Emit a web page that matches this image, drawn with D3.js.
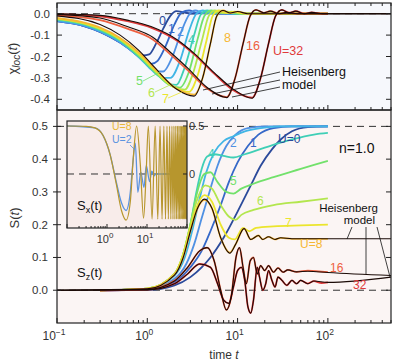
<!DOCTYPE html>
<html>
<head>
<meta charset="utf-8">
<script src="https://cdn.jsdelivr.net/npm/d3@7"></script>
<style>
  body { margin: 0; background: #fff; }
  text { font-family: "Liberation Sans", Arial, sans-serif; }
</style>
</head>
<body>
<div id="chart"></div>
<script>
// ========= Data ========= //
const uLabels = ['0', '1', '2', '3', '4', '5', '6', '7', '8', '16', '32'];
const uColors = ['#2b4a9b', '#3568c8', '#4f90e3', '#41b5e5', '#3fcfb6', '#72e16b',
                 '#b3e64e', '#ebe52d', '#f6b733', '#ee6040', '#e03a3a'];

const xTickValues = [0.1, 1, 10, 100];
const xTickExps = ['\u22121', '0', '1', '2'];
const chiTicks = [0, -0.1, -0.2, -0.3, -0.4];
const sTicks = [0, 0.1, 0.2, 0.3, 0.4, 0.5];

// chi_loc(t), one [t, value] list per U
const chi0 = [[0.1,-0.035],[0.2,-0.058],[0.3,-0.085],[0.5,-0.135],[0.7,-0.175],[0.9,-0.195],[1.05,-0.19],[1.25,-0.14],[1.5,-0.07],[1.8,-0.01],[2.1,0.012],[2.6,0.005],[3.2,0.0],[4,0.003],[6,0],[100,0]];
const chi1 = [[0.1,-0.035],[0.2,-0.058],[0.3,-0.085],[0.5,-0.135],[0.7,-0.18],[0.9,-0.215],[1.1,-0.235],[1.3,-0.22],[1.6,-0.15],[2.0,-0.05],[2.4,0.005],[2.9,0.015],[3.6,0.002],[4.5,0.006],[6,0],[100,0]];
const chi2 = [[0.1,-0.034],[0.2,-0.057],[0.3,-0.084],[0.5,-0.134],[0.7,-0.18],[1.0,-0.24],[1.25,-0.27],[1.5,-0.27],[1.9,-0.2],[2.4,-0.08],[2.9,-0.005],[3.4,0.015],[4.2,0.003],[5.2,0.01],[7,0],[100,0]];
const chi3 = [[0.1,-0.031],[0.2,-0.053],[0.3,-0.08],[0.5,-0.13],[0.8,-0.2],[1.1,-0.26],[1.5,-0.3],[1.8,-0.3],[2.3,-0.22],[2.9,-0.08],[3.5,0.0],[4.1,0.015],[5,0.002],[6.2,0.01],[8,0],[100,0]];
const chi4 = [[0.1,-0.028],[0.2,-0.05],[0.3,-0.077],[0.5,-0.127],[0.8,-0.2],[1.2,-0.27],[1.7,-0.325],[2.1,-0.333],[2.6,-0.25],[3.3,-0.1],[3.9,-0.005],[4.6,0.015],[5.6,0.002],[7,0.01],[9,0],[100,0]];
const chi5 = [[0.1,-0.026],[0.2,-0.048],[0.3,-0.074],[0.5,-0.123],[0.8,-0.195],[1.2,-0.27],[1.8,-0.335],[2.3,-0.345],[2.9,-0.27],[3.6,-0.12],[4.3,-0.01],[5.1,0.015],[6.2,0.003],[7.7,0.01],[10,0],[100,0]];
const chi6 = [[0.1,-0.024],[0.2,-0.046],[0.3,-0.071],[0.5,-0.12],[0.8,-0.19],[1.2,-0.265],[1.9,-0.34],[2.6,-0.355],[3.2,-0.28],[4.0,-0.13],[4.8,-0.01],[5.6,0.015],[6.8,0.003],[8.5,0.01],[11,0],[100,0]];
const chi7 = [[0.1,-0.022],[0.2,-0.044],[0.3,-0.068],[0.5,-0.117],[0.8,-0.185],[1.2,-0.26],[2.0,-0.345],[2.9,-0.365],[3.6,-0.29],[4.5,-0.13],[5.3,-0.01],[6.2,0.015],[7.5,0.003],[9.3,0.01],[12,0],[100,0]];
const chi8 = [[0.1,-0.02],[0.2,-0.042],[0.3,-0.065],[0.5,-0.113],[0.8,-0.18],[1.2,-0.255],[2.1,-0.35],[3.3,-0.378],[4.1,-0.3],[5.0,-0.14],[5.9,-0.01],[6.9,0.015],[8.3,0.003],[10,0.01],[13,0],[100,0]];
const chi16 = [[0.1,-0.008],[0.3,-0.03],[0.6,-0.07],[1.15,-0.12],[1.8,-0.19],[2.9,-0.27],[4.6,-0.35],[7.6,-0.39],[9.4,-0.3],[11.5,-0.14],[13.8,-0.01],[16,0.018],[19.5,0.004],[23,0.012],[29,0],[35,0.006],[46,0],[100,0]];
const chi32 = [[0.1,-0.002],[0.3,-0.012],[0.6,-0.035],[1.1,-0.065],[2.2,-0.13],[3.3,-0.19],[5.5,-0.28],[8.8,-0.355],[14.5,-0.392],[18,-0.3],[22,-0.14],[26.4,-0.01],[31,0.018],[37,0.004],[44,0.012],[55,0],[66,0.006],[88,0],[100,0]];
// Heisenberg model, chi_loc(t), for U = 8, 16, 32
const chiHeis8 = [[0.1,-0.01],[0.3,-0.05],[0.5,-0.1],[0.8,-0.17],[1.2,-0.25],[2.1,-0.352],[3.3,-0.385],[4.1,-0.3],[5.0,-0.14],[5.9,-0.01],[6.9,0.015],[8.3,0.003],[10,0.01],[13,0],[500,0]];
const chiHeis16 = [[0.1,-0.003],[0.3,-0.02],[0.6,-0.06],[1.15,-0.11],[1.8,-0.18],[2.9,-0.26],[4.6,-0.345],[7.6,-0.392],[9.4,-0.3],[11.5,-0.14],[13.8,-0.01],[16,0.018],[19.5,0.004],[23,0.012],[29,0],[35,0.006],[46,0],[500,0]];
const chiHeis32 = [[0.1,-0.001],[0.3,-0.008],[0.6,-0.03],[1.1,-0.06],[2.2,-0.125],[3.3,-0.185],[5.5,-0.275],[8.8,-0.35],[14.5,-0.395],[18,-0.3],[22,-0.14],[26.4,-0.01],[31,0.018],[37,0.004],[44,0.012],[55,0],[66,0.006],[88,0],[500,0]];

// S_z(t), one [t, value] list per U
const s0 = [[0.3,0],[1,0.001],[2,0.015],[3,0.04],[4,0.07],[5,0.1],[7,0.16],[10,0.24],[14,0.32],[18,0.38],[24,0.43],[30,0.46],[40,0.485],[60,0.498],[100,0.5]];
const s1 = [[0.3,0],[1,0.002],[2,0.025],[3,0.07],[4,0.12],[5,0.18],[6.5,0.26],[8,0.33],[10,0.39],[13,0.44],[17,0.475],[25,0.495],[40,0.5],[100,0.5]];
const s2 = [[0.3,0],[1,0.003],[2,0.035],[2.7,0.08],[3.3,0.14],[4,0.22],[5,0.31],[6,0.38],[7.5,0.44],[9.5,0.475],[13,0.495],[20,0.5],[100,0.5]];
const s3 = [[0.3,0],[1,0.004],[2,0.045],[2.6,0.1],[3.2,0.19],[3.8,0.28],[4.5,0.36],[5.5,0.42],[7,0.455],[9,0.47],[12,0.485],[18,0.495],[30,0.5],[100,0.5]];
const s4 = [[0.3,0],[1,0.005],[2,0.05],[2.5,0.11],[3,0.2],[3.5,0.3],[4,0.37],[4.6,0.408],[5.5,0.415],[7,0.41],[9,0.405],[12,0.415],[20,0.435],[40,0.46],[70,0.475],[100,0.48]];
const s5 = [[0.3,0],[1,0.005],[2,0.05],[2.5,0.11],[3,0.2],[3.5,0.29],[4.3,0.355],[5,0.36],[6,0.33],[7.5,0.3],[9,0.295],[11,0.31],[15,0.325],[25,0.345],[50,0.37],[100,0.395]];
const s6 = [[0.3,0],[1,0.005],[2,0.05],[2.5,0.11],[3,0.2],[3.6,0.28],[4.4,0.32],[5.2,0.31],[6.5,0.26],[8,0.225],[9.5,0.215],[11,0.23],[15,0.245],[25,0.26],[50,0.27],[100,0.28]];
const s7 = [[0.3,0],[1,0.005],[2,0.05],[2.5,0.11],[3,0.19],[3.6,0.26],[4.3,0.29],[5.2,0.27],[6.5,0.2],[8,0.16],[9.3,0.155],[11.5,0.19],[13.5,0.18],[16,0.19],[25,0.195],[50,0.198],[100,0.2]];
const s8 = [[0.3,0],[1,0.005],[2,0.048],[2.5,0.1],[3,0.18],[3.6,0.25],[4.3,0.276],[5.2,0.25],[6.5,0.16],[8.2,0.115],[9.5,0.14],[11.8,0.188],[14,0.155],[17,0.167],[19,0.155],[22,0.163],[26,0.155],[30,0.16],[40,0.157],[100,0.157]];
const s16 = [[0.3,0],[1,0.003],[2,0.03],[2.8,0.07],[3.8,0.12],[4.6,0.13],[5.5,0.09],[6.5,0.0],[7.5,-0.06],[8.5,-0.02],[9.6,0.1],[10.5,0.13],[11.5,0.07],[12.5,0.02],[13.8,0.09],[15,0.1],[16.5,0.05],[18,0.075],[20,0.06],[22,0.075],[25,0.055],[28,0.068],[32,0.055],[36,0.062],[45,0.056],[60,0.06],[100,0.055]];
const s32 = [[0.3,0],[1,0.002],[2,0.02],[2.8,0.05],[3.8,0.08],[5,0.07],[6,0.02],[7,-0.03],[8,-0.04],[9,0.01],[10,0.06],[11,0.07],[12,0.03],[13,-0.05],[14,-0.07],[15,-0.03],[16.5,0.07],[17.5,0.04],[19,0.0],[20.5,0.02],[22,0.06],[24,0.03],[26,0.01],[28,0.04],[31,0.03],[35,0.015],[40,0.03],[45,0.02],[50,0.03],[60,0.02],[70,0.028],[85,0.022],[100,0.024]];
// Heisenberg model S_z(t) for U = 8, 16, 32
const sHeis8 = [[0.1,0],[1,0.004],[2,0.046],[2.5,0.1],[3,0.18],[3.6,0.25],[4.3,0.278],[5.2,0.25],[6.5,0.16],[8.2,0.113],[9.5,0.14],[11.8,0.188],[14,0.155],[17,0.167],[19,0.155],[22,0.163],[26,0.155],[30,0.16],[40,0.157],[500,0.157]];
const sHeis16 = [[0.1,0],[1,0.002],[2,0.028],[2.8,0.07],[3.8,0.12],[4.6,0.13],[5.5,0.09],[6.5,0.0],[7.5,-0.06],[8.5,-0.02],[9.6,0.1],[10.5,0.13],[11.5,0.07],[12.5,0.02],[13.8,0.09],[15,0.1],[16.5,0.05],[18,0.075],[20,0.06],[22,0.075],[25,0.055],[28,0.068],[32,0.055],[36,0.062],[45,0.056],[60,0.058],[100,0.054],[500,0.045]];
const sHeis32 = [[0.1,0],[1,0.001],[2,0.02],[2.8,0.05],[3.8,0.08],[5,0.07],[6,0.02],[7,-0.03],[8,-0.04],[9,0.01],[10,0.06],[11,0.07],[12,0.03],[13,-0.05],[14,-0.07],[15,-0.03],[16.5,0.07],[17.5,0.04],[19,0.0],[20.5,0.02],[22,0.06],[24,0.03],[26,0.01],[28,0.04],[31,0.03],[35,0.015],[40,0.03],[45,0.02],[50,0.03],[60,0.02],[70,0.028],[100,0.024],[500,0.04]];

// inset: S_x(t) for U = 8 and U = 2
const sx8 = [[0.1,0.5],[0.3,0.497],[0.5,0.48],[0.8,0.4],[1.2,0.2],[1.7,-0.1],[2.3,-0.38],[3.0,-0.48],[3.8,-0.3],[4.6,0.2],[5.5,0.5],[6.8,0.1],[8.2,-0.46],[9.5,0.0],[10.8,0.5],[13.4,-0.47],[16,0.5],[18.6,-0.47],[21.2,0.5],[23.8,-0.47],[26.4,0.5],[29,-0.47],[31.6,0.5],[34.2,-0.47],[36.8,0.5],[39.4,-0.47],[42,0.5],[44.6,-0.47],[47.2,0.5],[49.8,-0.47],[52.4,0.5],[55,-0.47],[57.6,0.5],[60.2,-0.47],[62.8,0.5],[65.4,-0.47],[68,0.5],[70.6,-0.47],[73.2,0.5],[75.8,-0.47],[78.4,0.5],[81,-0.47],[83.6,0.5],[86.2,-0.47],[88.8,0.5],[91.4,-0.47],[94,0.5],[96.6,-0.47],[99.2,0.5]];
const sx2 = [[0.1,0.5],[0.5,0.48],[0.8,0.4],[1.2,0.2],[1.7,-0.08],[2.3,-0.3],[3.0,-0.38],[3.8,-0.2],[4.4,0.1],[5.1,0.32],[5.9,-0.19],[7.0,0.02],[8.4,-0.14],[9.6,0.09],[11.6,-0.08],[13.2,0.03],[15,-0.02],[17,0.005],[20,0],[100,0]];

// ========= Setup ========= //
const width = 395, height = 363;
const svg = d3.select('#chart').append('svg')
  .attr('width', width)
  .attr('height', height);

const left = 57, right = 391;
const top1 = 3, bot1 = 110, top2 = 110, bot2 = 323;

const x = d3.scaleLog().domain([0.1, 500]).range([left, right]);
const yChi = d3.scaleLinear().domain([-0.45, 0.05]).range([bot1, top1]);
const yS = d3.scaleLinear().domain([-0.1, 0.55]).range([bot2, top2]);

const inL = 67, inR = 187, inT = 121, inB = 228;
const xIn = d3.scaleLog().domain([0.1, 100]).range([inL, inR]);
const yIn = d3.scaleLinear().domain([-0.5625, 0.552]).range([inB, inT]);

const ink = '#222';
const tickTxt = '#333';

// ========= Panel backgrounds ========= //
svg.append('rect').attr('x', left).attr('y', top1)
  .attr('width', right - left).attr('height', bot1 - top1).attr('fill', '#f6f8fc');
svg.append('rect').attr('x', left).attr('y', top2)
  .attr('width', right - left).attr('height', bot2 - top2).attr('fill', '#fbf5f4');

svg.append('clipPath').attr('id', 'clip1').append('rect')
  .attr('x', left).attr('y', top1).attr('width', right - left).attr('height', bot1 - top1);
svg.append('clipPath').attr('id', 'clip2').append('rect')
  .attr('x', left).attr('y', top2).attr('width', right - left).attr('height', bot2 - top2);
svg.append('clipPath').attr('id', 'clip3').append('rect')
  .attr('x', inL).attr('y', inT).attr('width', inR - inL).attr('height', inB - inT);

// ========= Helpers ========= //
function dashed(g, y, x0, x1) {
  g.append('line')
    .attr('x1', x0).attr('x2', x1).attr('y1', y).attr('y2', y)
    .attr('stroke', '#333').attr('stroke-width', 1)
    .attr('stroke-dasharray', '7,5');
}

function drawCurve(g, data, xs, ys, color, w) {
  const line = d3.line()
    .x(d => xs(d[0]))
    .y(d => ys(d[1]))
    .curve(d3.curveMonotoneX);
  g.append('path')
    .datum(data)
    .attr('d', line)
    .attr('fill', 'none')
    .attr('stroke', color)
    .attr('stroke-width', w)
    .attr('stroke-linejoin', 'round');
}

function logTicks(g, xs, y, dir, major, minor) {
  xs.ticks().forEach(t => {
    const isMajor = Math.abs(Math.log10(t) - Math.round(Math.log10(t))) < 1e-6;
    const len = isMajor ? major : minor;
    g.append('line')
      .attr('x1', xs(t)).attr('x2', xs(t))
      .attr('y1', y).attr('y2', y + dir * len)
      .attr('stroke', ink).attr('stroke-width', 1);
  });
}

function label(g, txt, px, py, color, size, anchor) {
  return g.append('text')
    .attr('x', px).attr('y', py)
    .attr('fill', color)
    .attr('font-size', size)
    .attr('text-anchor', anchor || 'start')
    .text(txt);
}

function leader(s, color) {
  svg.append('line').attr('x1', s[0]).attr('y1', s[1]).attr('x2', s[2]).attr('y2', s[3])
    .attr('stroke', color).attr('stroke-width', 0.8);
}

// ========= Top panel: chi_loc ========= //
const g1 = svg.append('g').attr('clip-path', 'url(#clip1)');
dashed(g1, yChi(0), left, right);

const chiSeries = [chi0, chi1, chi2, chi3, chi4, chi5, chi6, chi7, chi8, chi16, chi32];
chiSeries.forEach((d, i) => drawCurve(g1, d, x, yChi, uColors[i], 1.8));
[chiHeis8, chiHeis16, chiHeis32].forEach(d => drawCurve(g1, d, x, yChi, '#1a0a06', 1.1));

logTicks(svg, x, bot1, -1, 5, 3);
logTicks(svg, x, top1, 1, 5, 3);
chiTicks.forEach(v => {
  svg.append('line').attr('x1', left).attr('x2', left + 5)
    .attr('y1', yChi(v)).attr('y2', yChi(v)).attr('stroke', ink);
  svg.append('line').attr('x1', right).attr('x2', right - 5)
    .attr('y1', yChi(v)).attr('y2', yChi(v)).attr('stroke', ink);
  label(svg, d3.format('.1f')(v).replace('\u2212', '-'), 50, yChi(v) + 4, tickTxt, 11.5, 'end');
});
svg.append('rect').attr('x', left).attr('y', top1)
  .attr('width', right - left).attr('height', bot1 - top1)
  .attr('fill', 'none').attr('stroke', ink).attr('stroke-width', 1.2);

const topLabels = [
  ['0', 159, 25, 0], ['1', 168, 33, 1], ['2', 177, 36, 2], ['4', 188, 44, 4],
  ['8', 224, 42, 8], ['16', 246, 50, 9], ['U=32', 273, 55, 10],
  ['5', 136, 85, 5], ['6', 148, 97, 6], ['7', 162, 103, 7]
];
topLabels.forEach(l => label(svg, l[0], l[1], l[2], uColors[l[3]], 12.5));
[[143, 81, 160, 72], [155, 92, 170, 85], [168, 98, 182, 92]]
  .forEach((s, i) => leader(s, uColors[5 + i]));
label(svg, 'Heisenberg', 282, 76, '#111', 12.5);
label(svg, 'model', 282, 89, '#111', 12.5);
[[280, 72, 203, 90], [280, 80, 212, 94], [280, 87, 232, 97]].forEach(s => leader(s, '#111'));

svg.append('text')
  .attr('transform', `translate(17,${(top1 + bot1) / 2 + 2}) rotate(-90)`)
  .attr('text-anchor', 'middle').attr('font-size', 13).attr('fill', tickTxt)
  .call(t => {
    t.append('tspan').text('\u03c7');
    t.append('tspan').attr('font-size', 10).attr('font-style', 'italic').attr('dy', 3).text('loc');
    t.append('tspan').attr('dy', -3).text('(');
    t.append('tspan').attr('font-style', 'italic').text('t');
    t.append('tspan').text(')');
  });

// ========= Bottom panel: S(t) ========= //
const g2 = svg.append('g').attr('clip-path', 'url(#clip2)');
dashed(g2, yS(0), left, right);
dashed(g2, yS(0.5), left, right);

const sSeries = [s0, s1, s2, s3, s4, s5, s6, s7, s8, s16, s32];
sSeries.forEach((d, i) => drawCurve(g2, d, x, yS, uColors[i], 1.8));
[sHeis8, sHeis16, sHeis32].forEach(d => drawCurve(g2, d, x, yS, '#1a0a06', 1.1));

logTicks(svg, x, bot2, -1, 5, 3);
sTicks.forEach(v => {
  svg.append('line').attr('x1', left - 4).attr('x2', left + 4)
    .attr('y1', yS(v)).attr('y2', yS(v)).attr('stroke', ink);
  svg.append('line').attr('x1', right).attr('x2', right - 5)
    .attr('y1', yS(v)).attr('y2', yS(v)).attr('stroke', ink);
  label(svg, d3.format('.1f')(v), 48, yS(v) + 4, tickTxt, 11.5, 'end');
});
svg.append('rect').attr('x', left).attr('y', top2)
  .attr('width', right - left).attr('height', bot2 - top2)
  .attr('fill', 'none').attr('stroke', ink).attr('stroke-width', 1.2);

xTickValues.forEach((t, i) => {
  const tx = svg.append('text').attr('x', x(t) - 3).attr('y', 340)
    .attr('text-anchor', 'middle').attr('font-size', 12).attr('fill', tickTxt);
  tx.append('tspan').text('10');
  tx.append('tspan').attr('dy', -5).attr('font-size', 8.5).text(xTickExps[i]);
});
svg.append('text').attr('x', 224).attr('y', 359).attr('text-anchor', 'middle')
  .attr('font-size', 12).attr('fill', tickTxt)
  .call(t => {
    t.append('tspan').text('time ');
    t.append('tspan').attr('font-style', 'italic').text('t');
  });

svg.append('text')
  .attr('transform', `translate(19,218) rotate(-90)`)
  .attr('text-anchor', 'middle').attr('font-size', 13).attr('fill', tickTxt)
  .call(t => {
    t.append('tspan').text('S(');
    t.append('tspan').attr('font-style', 'italic').text('t');
    t.append('tspan').text(')');
  });

const botLabels = [
  ['U=0', 278, 143, 0], ['1', 250, 147, 1], ['2', 230, 147, 2], ['4', 208, 158, 4],
  ['5', 230, 185, 5], ['6', 257, 205, 6], ['7', 285, 227, 7], ['U=8', 300, 248, 8],
  ['16', 330, 272, 9], ['32', 353, 289, 10]
];
botLabels.forEach(l => label(svg, l[0], l[1], l[2], uColors[l[3]], 12));
label(svg, 'n=1.0', 339, 153, '#111', 14);
label(svg, 'Heisenberg', 378, 212, '#111', 11.5, 'end');
label(svg, 'model', 375, 224, '#111', 11.5, 'end');
[[352, 227, 347, 239], [366, 227, 366, 274], [377, 227, 390, 277]].forEach(s => leader(s, '#111'));
svg.append('text').attr('x', 77).attr('y', 277).attr('font-size', 13).attr('fill', '#111')
  .call(t => {
    t.append('tspan').text('S');
    t.append('tspan').attr('font-size', 9).attr('dy', 3).text('z');
    t.append('tspan').attr('dy', -3).text('(t)');
  });

// ========= Inset: S_x(t) ========= //
svg.append('rect').attr('x', inL).attr('y', inT)
  .attr('width', inR - inL).attr('height', inB - inT).attr('fill', '#f8ecea');
const g3 = svg.append('g').attr('clip-path', 'url(#clip3)');
dashed(g3, yIn(0), inL, inR);
drawCurve(g3, sx2, xIn, yIn, '#5b93e0', 1.3);
drawCurve(g3, sx8, xIn, yIn, '#b7962d', 1.2);
logTicks(svg, xIn, inB, -1, 4, 2);
[0, 0.5].forEach(v => {
  svg.append('line').attr('x1', inR).attr('x2', inR - 4)
    .attr('y1', yIn(v)).attr('y2', yIn(v)).attr('stroke', ink);
  label(svg, v === 0 ? '0' : '0.5', inR + 2, yIn(v) + 4, tickTxt, 11);
});
svg.append('rect').attr('x', inL).attr('y', inT)
  .attr('width', inR - inL).attr('height', inB - inT)
  .attr('fill', 'none').attr('stroke', ink).attr('stroke-width', 1.2);
[1, 10].forEach((t, i) => {
  const tx = svg.append('text').attr('x', xIn(t) - 2).attr('y', 243)
    .attr('text-anchor', 'middle').attr('font-size', 11).attr('fill', tickTxt);
  tx.append('tspan').text('10');
  tx.append('tspan').attr('dy', -5).attr('font-size', 8).text(i === 0 ? '0' : '1');
});
label(svg, 'U=8', 112, 130, '#e8b838', 10.5);
label(svg, 'U=2', 112, 143, '#5b93e0', 10.5);
leader([130, 145, 135, 150], '#5b93e0');
svg.append('text').attr('x', 77).attr('y', 210).attr('font-size', 13).attr('fill', '#111')
  .call(t => {
    t.append('tspan').text('S');
    t.append('tspan').attr('font-size', 9).attr('dy', 3).text('x');
    t.append('tspan').attr('dy', -3).text('(t)');
  });
</script>
</body>
</html>
